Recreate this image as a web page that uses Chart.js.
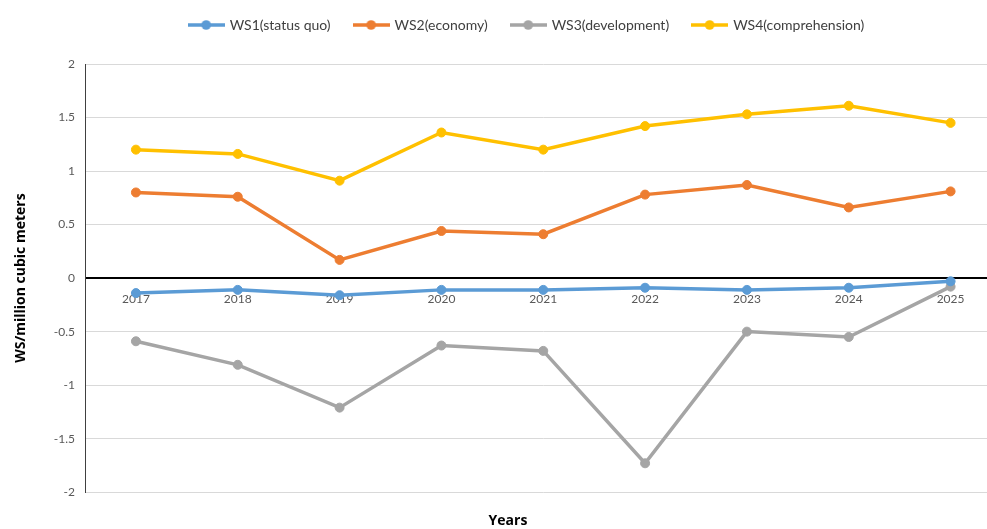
<!DOCTYPE html>
<html><head><meta charset="utf-8">
<script src="https://cdn.jsdelivr.net/npm/chart.js@4/dist/chart.umd.min.js"></script>
<style>
html,body{margin:0;padding:0;background:#fff;overflow:hidden;width:987px;height:529px;}
#wrap{position:absolute;left:0;top:0;width:1007px;height:529px;}
</style></head>
<body>
<div id="wrap"><canvas id="c"></canvas></div>
<script>
const years = ['2017','2018','2019','2020','2021','2022','2023','2024','2025'];
const ws1 = [-0.14,-0.11,-0.16,-0.11,-0.11,-0.09,-0.11,-0.09,-0.03];
const ws2 = [0.80,0.76,0.17,0.44,0.41,0.78,0.87,0.66,0.81];
const ws3 = [-0.59,-0.81,-1.21,-0.63,-0.68,-1.73,-0.50,-0.55,-0.08];
const ws4 = [1.20,1.16,0.91,1.36,1.20,1.42,1.53,1.61,1.45];
const names = ['WS1(status quo)','WS2(economy)','WS3(development)','WS4(comprehension)'];
const colors = ['#5B9BD5','#ED7D31','#A5A5A5','#FFC000'];

function legendIcon(col){
  const cv=document.createElement('canvas'); cv.width=37; cv.height=12;
  const g=cv.getContext('2d');
  g.strokeStyle=col; g.lineWidth=3.5; g.beginPath(); g.moveTo(0,6); g.lineTo(37,6); g.stroke();
  g.fillStyle=col; g.beginPath(); g.arc(18.5,6,4.8,0,Math.PI*2); g.fill();
  return cv;
}
const series=[ws1,ws2,ws3,ws4];
const datasets=series.map((d,i)=>({
  label:names[i], data:d, borderColor:colors[i], backgroundColor:colors[i],
  borderWidth:3.5, pointRadius:4.5, pointBorderWidth:1, pointHoverRadius:4.5, pointStyle:'circle',
  tension:0, _icon:legendIcon(colors[i])
}));

const legendTweak={id:'legendTweak',
  afterInit(chart){
    const orig=chart.legend.fit;
    chart.legend.fit=function(){orig.call(this); this.height+=22;};
  },
  afterLayout(chart){
    chart.legend.left+=19; chart.legend.right+=19;
  }
};

new Chart(document.getElementById('c'),{
  type:'line',
  data:{labels:years,datasets},
  plugins:[legendTweak],
  options:{
    responsive:true, maintainAspectRatio:false, animation:false,
    layout:{padding:{left:13,right:4,top:-6,bottom:0}},
    plugins:{
      legend:{position:'top',
        labels:{font:{family:'Lato',size:14},color:'#404040',usePointStyle:true,pointStyleWidth:33,boxHeight:12,padding:24,
          generateLabels:(chart)=>chart.data.datasets.map((ds,i)=>({text:ds.label,pointStyle:ds._icon,fillStyle:ds.borderColor,strokeStyle:ds.borderColor,lineWidth:0,datasetIndex:i,hidden:false,fontColor:'#404040'}))}},
      title:{display:true,text:'Years',position:'bottom',font:{family:'Open Sans',size:14,weight:'bold'},color:'#000',padding:{top:20,bottom:0}},
      tooltip:{enabled:false}
    },
    scales:{
      x:{position:{y:0},offset:true,grid:{display:false},border:{display:false},
        ticks:{font:{family:'Lato',size:12},color:'#595959',padding:6}},
      y:{min:-2,max:2,
        ticks:{stepSize:0.5,font:{family:'Lato',size:12},color:'#595959',padding:10,callback:(v)=>String(v)},
        grid:{color:(c)=>c.tick && c.tick.value===0?'#000':'#d9d9d9',lineWidth:(c)=>c.tick && c.tick.value===0?2:1,drawTicks:false},
        border:{display:true,color:'#404040',width:1},
        title:{display:true,text:'WS/million cubic meters',font:{family:'Open Sans',size:14,weight:'bold'},color:'#000',padding:{top:0,bottom:14}}
      }
    }
  }
});
</script>
</body></html>
